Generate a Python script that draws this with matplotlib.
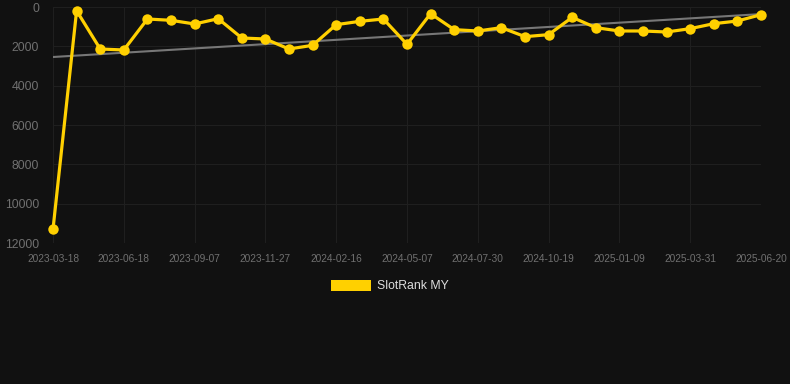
import matplotlib
matplotlib.use("Agg")
import matplotlib.pyplot as plt
from matplotlib.patches import Patch
import numpy as np

plt.rcParams['font.family'] = ['Liberation Sans', 'DejaVu Sans']

tick_labels = ["2023-03-18", "2023-06-18", "2023-09-07", "2023-11-27", "2024-02-16",
               "2024-05-07", "2024-07-30", "2024-10-19", "2025-01-09", "2025-03-31",
               "2025-06-20"]
ranks = [11300, 190, 2135, 2186, 610, 677, 864, 594, 1576, 1627, 2135, 1949, 898, 729, 610,
         1898, 339, 1152, 1220, 1050, 1508, 1406, 525, 1050, 1220, 1220, 1271, 1101, 847,
         712, 390]
y_ticks = [0, 2000, 4000, 6000, 8000, 10000, 12000]
series_name = "SlotRank MY"

bg = "#111111"
fig = plt.figure(figsize=(7.9, 3.84), dpi=100, facecolor=bg)
ax = fig.add_axes([53/790, 1-243/384, (761-53)/790, (243-7)/384])
ax.set_facecolor(bg)

x = np.arange(len(ranks))
coef = np.polyfit(x, ranks, 1)
ax.plot(x, np.polyval(coef, x), color="#777777", lw=1.5, zorder=2)
ax.plot(x, ranks, color="#FFD000", lw=2.3, marker="o", markersize=7.5,
        markeredgewidth=0, zorder=3, clip_on=False)

ax.set_xlim(0, len(ranks)-1)
ax.set_ylim(12000, 0)
ax.set_yticks(y_ticks)
ax.set_yticklabels([str(v) for v in y_ticks])
ax.set_xticks(x[::3])
ax.set_xticklabels(tick_labels)
ax.grid(True, color="#1f1f1f", lw=0.8)
for s in ax.spines.values():
    s.set_visible(False)
ax.tick_params(axis='y', length=0, pad=10, labelsize=8.8, labelcolor="#707070")
ax.tick_params(axis='x', length=0, pad=8, labelsize=7.3, labelcolor="#707070")

leg = fig.legend(handles=[Patch(facecolor="#FFD000", edgecolor="none", label=series_name)],
                 loc="center", bbox_to_anchor=(390/790, 1-286/384), frameon=False,
                 handlelength=3.3, handleheight=1.0, handletextpad=0.5,
                 fontsize=8.8, labelcolor="#dddddd")

fig.savefig("out.png", dpi=100, facecolor=bg)
